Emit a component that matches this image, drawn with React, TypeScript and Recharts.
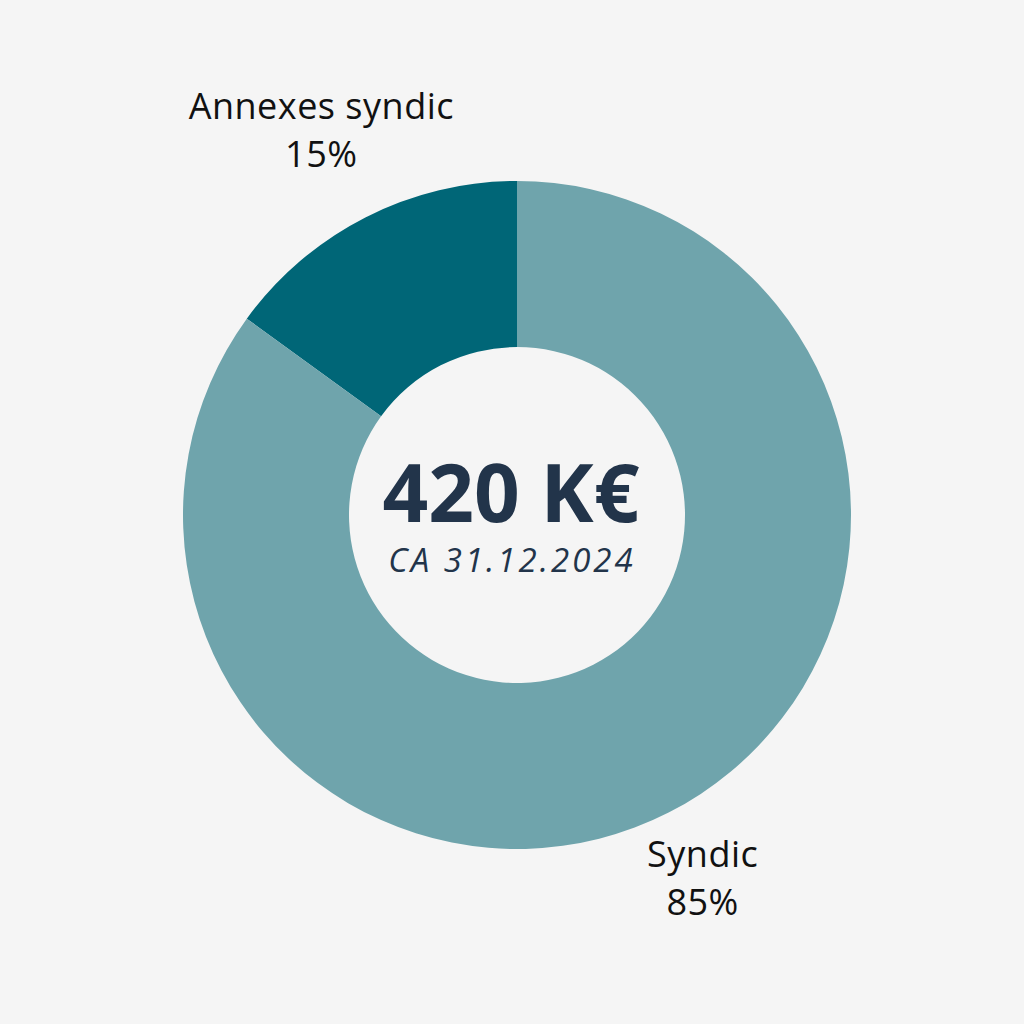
import React from "react";
import { PieChart, Pie, Cell } from "recharts";

const categories = ["Annexes syndic", "Syndic"];
const shares = [15, 85];
const colors = ["#006677", "#6FA4AC"];
const totalLabel = "420 K€";
const subLabel = "CA 31.12.2024";

const data = categories.map((name, i) => ({ name, value: shares[i] }));

const RAD = Math.PI / 180;

const renderLabel = (props: any) => {
  const { cx, cy, midAngle, outerRadius, name, value } = props;
  const r = outerRadius + 86;
  const x = cx + r * Math.cos(-midAngle * RAD) - 5;
  const y = cy + r * Math.sin(-midAngle * RAD);
  return (
    <text
      x={x}
      y={y}
      textAnchor="middle"
      fill="#111111"
      fontFamily="'Open Sans', sans-serif"
      fontSize={36}
      letterSpacing={0.5}
    >
      <tspan x={x} dy={-22}>{name}</tspan>
      <tspan x={x} dy={48}>{`${value}%`}</tspan>
    </text>
  );
};

export default function App() {
  return (
    <div style={{ width: 1024, height: 1024, background: "#F5F5F5", position: "absolute", left: 0, top: 0 }}>
      <style>{`body{margin:0;background:#F5F5F5;}`}</style>
      <PieChart width={1024} height={1024} margin={{ top: 0, right: 0, bottom: 0, left: 0 }}>
        <Pie
          data={data}
          dataKey="value"
          nameKey="name"
          cx={517}
          cy={515}
          innerRadius={168}
          outerRadius={334}
          startAngle={90}
          endAngle={450}
          stroke="none"
          label={renderLabel}
          labelLine={false}
          isAnimationActive={false}
        >
          {data.map((d, i) => (
            <Cell key={d.name} fill={colors[i]} />
          ))}
        </Pie>
        <text
          x={511}
          y={522}
          textAnchor="middle"
          fill="#22344A"
          fontFamily="'Open Sans', sans-serif"
          fontWeight={700}
          fontSize={80}
        >
          {totalLabel}
        </text>
        <text
          x={512}
          y={572}
          textAnchor="middle"
          fill="#22344A"
          fontFamily="'Open Sans', sans-serif"
          fontStyle="italic"
          fontSize={33}
          letterSpacing={3}
        >
          {subLabel}
        </text>
      </PieChart>
    </div>
  );
}
